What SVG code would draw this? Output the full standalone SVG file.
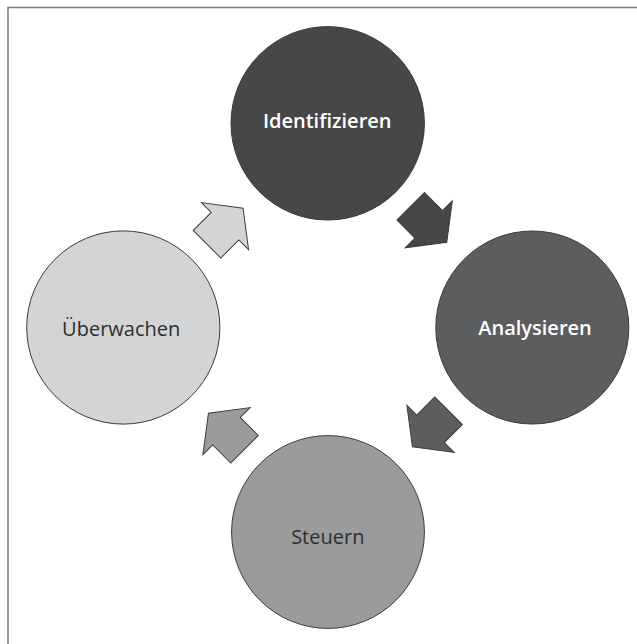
<svg xmlns="http://www.w3.org/2000/svg" width="637" height="644" viewBox="0 0 637 644">
  <style>
    .node { stroke: #3a3a3a; stroke-width: 1; }
    .arrow { stroke: #3a3a3a; stroke-width: 1; stroke-linejoin: miter; }
    .label { font-family: "Open Sans", "Liberation Sans", sans-serif; font-size: 20px; text-anchor: middle; }
    .light { fill: #ffffff; font-weight: 600; }
    .dark { fill: #2e2e2e; font-weight: 400; }
  </style>
  <defs>
    <!-- block arrow pointing along +x, origin at middle of the tail -->
    <polygon id="blockArrow" points="0,-19.5 25.5,-19.5 25.5,-33.3 51,0 25.5,33.3 25.5,19.5 0,19.5"/>
  </defs>

  <rect width="637" height="644" fill="#ffffff"/>
  <!-- frame, open towards the right and bottom edges -->
  <rect x="8" y="7.5" width="660" height="660" fill="none" stroke="#7a7a7a" stroke-width="1.5"/>

  <g id="connectors">
    <use href="#blockArrow" class="arrow" fill="#d3d4d6" transform="translate(207,244.2) rotate(-45)"/>
    <use href="#blockArrow" class="arrow" fill="#474747" transform="translate(410.7,206.3) rotate(45)"/>
    <use href="#blockArrow" class="arrow" fill="#5c5d5f" transform="translate(448.5,410.8) rotate(135)"/>
    <use href="#blockArrow" class="arrow" fill="#9a9b9d" transform="translate(244.5,449.2) rotate(225)"/>
  </g>

  <g id="identifizieren">
    <circle class="node" cx="327.7" cy="123.3" r="96.7" fill="#474747"/>
    <text class="label light" x="327.2" y="128.3">Identifizieren</text>
  </g>
  <g id="analysieren">
    <circle class="node" cx="532.3" cy="327.5" r="96.5" fill="#5c5d5f"/>
    <text class="label light" x="535" y="335">Analysieren</text>
  </g>
  <g id="steuern">
    <circle class="node" cx="328" cy="532" r="96.4" fill="#9a9b9d"/>
    <text class="label dark" x="327.8" y="544">Steuern</text>
  </g>
  <g id="ueberwachen">
    <circle class="node" cx="123.3" cy="327.5" r="96.6" fill="#d3d4d6"/>
    <text class="label dark" x="121.2" y="335.7">Überwachen</text>
  </g>
</svg>
